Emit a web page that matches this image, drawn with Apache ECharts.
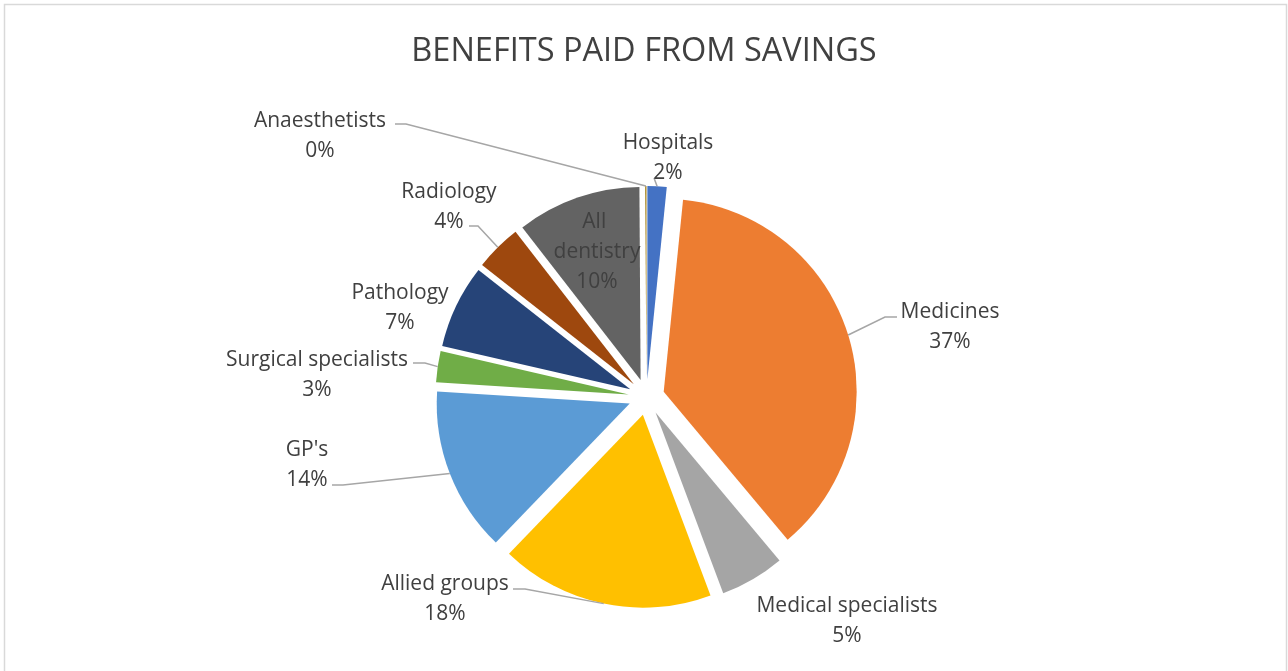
<!DOCTYPE html>
<html>
<head>
<meta charset="utf-8">
<script src="https://cdn.jsdelivr.net/npm/echarts@6/dist/echarts.min.js"></script>
<style>
html,body{margin:0;padding:0;background:#fff;}
#chart{width:1288px;height:671px;}
</style>
</head>
<body>
<div id="chart"></div>
<script>
// ---- data ----
const categories = ["Hospitals", "Medicines", "Medical specialists", "Allied groups", "GP's",
  "Surgical specialists", "Pathology", "Radiology", "All dentistry", "Anaesthetists"];
const shares = [1.6, 37.3, 5.4, 17.9, 13.8, 2.6, 7.0, 3.9, 10.4, 0.1];
const titleText = "BENEFITS PAID FROM SAVINGS";

// ---- style / layout ----
const colors = ['#4472C4', '#ED7D31', '#A5A5A5', '#FFC000', '#5B9BD5',
  '#70AD47', '#264478', '#9E480E', '#636363', '#997300'];
const center = [646.5, 397];
const radius = 193;
const explode = 18;
// label block centres
const labelPos = [
  [668, 158], [950, 327], [847, 621], [445, 599], [307, 465],
  [317, 375], [400, 308], [449, 207], [597, 252], [320, 136]
];
// leader line: [elbow, end at label] (null = no line)
const leaders = [
  [[654, 178], [654, 178]],
  [[885, 317], [897, 317]],
  null,
  [[525, 589], [513, 589]],
  [[343, 485], [332, 485]],
  [[425, 363], [413, 363]],
  null,
  [[478, 226], [469, 226]],
  null,
  [[406, 124], [395, 124]]
];

const total = shares.reduce((a, b) => a + b, 0);
const midAngles = [];
let acc = 0;
shares.forEach(v => { midAngles.push((acc + v / 2) / total * 360); acc += v; });

const sliceData = categories.map((c, i) => ({
  name: c, value: shares[i], selected: true, itemStyle: { color: colors[i] }
}));
const labelData = categories.map((c, i) => {
  const item = { name: c, value: shares[i] };
  if (!leaders[i]) item.labelLine = { show: false };
  if (c === 'All dentistry') item.label = { width: 100, overflow: 'break' };
  return item;
});

const chart = echarts.init(document.getElementById('chart'), null, { renderer: 'canvas' });
chart.setOption({
  animation: false,
  backgroundColor: '#ffffff',
  title: {
    text: titleText, left: 'center', top: 30,
    textStyle: { fontFamily: 'Open Sans', fontSize: 32.5, fontWeight: 'normal', color: '#404040' }
  },
  graphic: [{
    type: 'rect', silent: true, z: -1,
    shape: { x: 4.5, y: 4.5, width: 1282, height: 700 },
    style: { fill: 'none', stroke: '#d9d9d9', lineWidth: 1.5 }
  }],
  series: [{
    type: 'pie',
    center: center,
    radius: radius,
    startAngle: 90,
    clockwise: true,
    selectedMode: 'multiple',
    selectedOffset: explode,
    data: sliceData,
    label: { show: false },
    labelLine: { show: false },
    emphasis: { disabled: true },
    silent: true
  }, {
    type: 'pie',
    center: center,
    radius: radius,
    startAngle: 90,
    clockwise: true,
    selectedMode: false,
    avoidLabelOverlap: false,
    silent: true,
    z: 5,
    data: labelData,
    itemStyle: { color: 'rgba(0,0,0,0)' },
    label: {
      show: true,
      fontFamily: 'Open Sans', fontSize: 21, lineHeight: 30, color: '#404040',
      align: 'center',
      formatter: p => p.name + '\n' + Math.round(p.percent) + '%'
    },
    labelLine: { show: true, lineStyle: { color: '#A6A6A6', width: 1.5 } },
    emphasis: { disabled: true },
    labelLayout: function (params) {
      const i = params.dataIndex;
      const res = { x: labelPos[i][0], y: labelPos[i][1], align: 'center', verticalAlign: 'middle' };
      const ld = leaders[i];
      if (ld) {
        const a = midAngles[i] * Math.PI / 180;
        const r = radius + explode;
        const s = [center[0] + r * Math.sin(a), center[1] - r * Math.cos(a)];
        res.labelLinePoints = [s, ld[0], ld[1]];
      }
      return res;
    }
  }]
});
</script>
</body>
</html>
